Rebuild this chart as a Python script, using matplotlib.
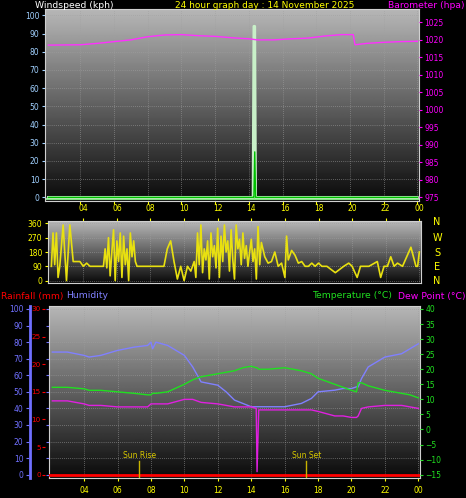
import matplotlib
matplotlib.use("Agg")
import matplotlib.pyplot as plt
import numpy as np

W, H = 466, 498

# barometer (hpa)
baro_t = [2.1, 4.0, 5.0, 6.0, 7.0, 8.0, 9.0, 10.0, 11.0, 12.0, 13.0, 14.0, 14.5, 15.5, 16.5, 17.5, 18.5, 19.5, 20.2, 20.3, 21.0, 22.0, 23.0, 24.0]
baro_v = [1018.5, 1018.6, 1019.0, 1019.5, 1020.0, 1020.9, 1021.4, 1021.5, 1021.2, 1021.0, 1020.6, 1020.3, 1020.0, 1020.0, 1020.3, 1020.5, 1021.1, 1021.5, 1021.5, 1018.6, 1019.0, 1019.3, 1019.5, 1019.6]
# wind speed / gust (kph)
wind_t = [2.1, 14.25, 14.3, 14.35, 14.4, 24.0]
gust_v = [0, 0, 94, 94, 0, 0]
avg_v = [0, 0, 0, 25, 0, 0]
# wind direction (deg)
dir_t = [2.1, 2.2, 2.3, 2.4, 2.5, 2.6, 2.8, 3.0, 3.2, 3.4, 3.6, 3.8, 4.0, 4.2, 4.4, 4.6, 4.8, 5.0, 5.2, 5.3, 5.4, 5.5, 5.6, 5.7,
         5.8, 5.9, 6.0, 6.1, 6.2, 6.3, 6.4, 6.5, 6.6, 6.7, 6.8, 6.9, 7.0, 7.1, 7.2, 7.4, 7.6, 7.8, 8.0, 8.4, 8.8, 9.0, 9.2, 9.4,
         9.6, 9.8, 10.0, 10.2, 10.4, 10.6, 10.7, 10.8, 10.9, 11.0, 11.1, 11.2, 11.3, 11.4, 11.5, 11.6, 11.7, 11.8, 11.9, 12.0,
         12.1, 12.2, 12.3, 12.4, 12.5, 12.6, 12.7, 12.8, 12.9, 13.0, 13.1, 13.2, 13.3, 13.4, 13.5, 13.6, 13.7, 13.8, 13.9, 14.0,
         14.1, 14.2, 14.3, 14.4, 14.5, 14.6, 14.8, 15.0, 15.2, 15.4, 15.6, 15.8, 16.0, 16.1, 16.2, 16.4, 16.6, 16.8, 17.0, 17.2,
         17.4, 17.6, 17.8, 18.0, 18.2, 18.5, 19.0, 19.5, 19.8, 20.0, 20.3, 20.5, 21.0, 21.5, 21.7, 21.9, 22.1, 22.3, 22.5, 22.7,
         23.0, 23.5, 23.8, 23.9, 24.0]
dir_v = [90, 300, 100, 300, 20, 90, 350, 0, 350, 120, 120, 120, 90, 110, 90, 90, 90, 90, 90, 200, 80, 270, 30, 180, 320,
         0, 250, 120, 300, 20, 280, 100, 200, 0, 300, 150, 250, 120, 90, 90, 90, 90, 90, 90, 90, 200, 250, 120, 10, 90, 0,
         90, 60, 120, 20, 300, 100, 350, 50, 200, 130, 250, 10, 300, 150, 220, 80, 330, 20, 280, 120, 350, 180, 250, 60,
         320, 130, 10, 350, 200, 260, 100, 300, 140, 220, 90, 180, 260, 120, 200, 10, 340, 100, 240, 150, 110, 120, 180,
         90, 110, 20, 280, 130, 190, 160, 110, 120, 90, 90, 110, 90, 110, 90, 90, 50, 90, 110, 90, 20, 90, 90, 120, 20,
         90, 90, 150, 90, 110, 90, 210, 90, 90, 180]
# temperature / dew point (C), humidity (%)
th_t = [2.1, 3.0, 4.0, 4.3, 5.0, 6.0, 7.0, 7.8, 8.0, 8.1, 8.3, 9.0, 10.0, 10.5, 11.0, 12.0, 12.5, 13.0, 13.5, 14.0, 14.3,
        14.35, 14.45, 15.0, 16.0, 17.0, 17.6, 18.0, 19.0, 19.5, 20.0, 20.3, 20.4, 20.6, 21.0, 22.0, 23.0, 23.5, 24.0]
hum_v = [74, 74, 72, 71, 72, 75, 77, 78, 80, 76, 80, 78, 72, 65, 56, 54, 50, 45, 43, 41, 41, 41, 41, 41, 41, 43, 46, 50,
         51, 52, 52, 53, 53, 58, 65, 71, 73, 76, 79]
temp_v = [14, 14, 13.5, 13, 13, 12.5, 12, 11.5, 11.5, 12, 12, 12.5, 15, 16.5, 17.5, 18.5, 19, 19.5, 20.5, 21, 20.5, 20.5,
          20, 20, 20.5, 19.5, 18.5, 17, 15, 14, 13, 12.5, 15.5, 15.5, 14.5, 13, 12, 11.5, 10.5]
dew_v = [9.5, 9.5, 8.5, 8, 8, 7.5, 7.5, 7.5, 8.5, 8.5, 8.5, 8.5, 10, 10, 9, 8.5, 8, 7.5, 7.5, 7.5, 7, -14, 6.5, 6.5, 6.5,
         6.5, 6.5, 6, 4.5, 4.5, 4, 4, 4.5, 7, 7.5, 8, 8, 7.5, 7]
hour_ticks = [4, 6, 8, 10, 12, 14, 16, 18, 20, 22, 24]
hour_labels = ["04", "06", "08", "10", "12", "14", "16", "18", "20", "22", "00"]
sun_rise, sun_set = 7.3, 17.3

XMIN, XMAX = 1.9, 24.1
fig = plt.figure(figsize=(W / 100, H / 100), dpi=100, facecolor="black")


def box(l, t, r, b):
    return fig.add_axes([l / W, 1 - b / H, (r - l) / W, (b - t) / H])


def style(ax, ylim, yticks, ycol):
    ax.set_facecolor("black")
    ax.set_xlim(XMIN, XMAX)
    ax.set_ylim(*ylim)
    grad = np.linspace(0.72, 0.04, 200).reshape(-1, 1)
    ax.imshow(grad, cmap="gray", vmin=0, vmax=1, aspect="auto",
              extent=[XMIN, XMAX, ylim[0], ylim[1]], zorder=0)
    ax.set_yticks(yticks)
    ax.tick_params(axis="y", colors=ycol, labelsize=5.5, length=2, pad=2)
    ax.set_xticks(hour_ticks)
    for v in hour_ticks:
        ax.axvline(v, color="#a0a0a0", lw=0.5, ls=(0, (1, 2)), zorder=1)
    for v in yticks:
        ax.axhline(v, color="#a0a0a0", lw=0.5, ls=(0, (1, 2)), zorder=1)
    for s in ax.spines.values():
        s.set_color("#d0d0d0")


# panel 1: wind + barometer
ax1 = box(45, 9, 419, 201)
style(ax1, (-2, 103.5), range(0, 101, 10), "#a0d0ff")
ax1.tick_params(axis="x", colors="yellow", labelsize=5.5, length=2)
ax1.set_xticklabels([])
ax1.axhline(-1, color="#80e080", lw=1.5, zorder=2)
ax1.plot(wind_t, gust_v, color="#c8f0c8", lw=2, zorder=3)
ax1.plot(wind_t, avg_v, color="#00c000", lw=1, zorder=4)
ax1b = ax1.twinx()
ax1b.set_ylim(975 - 2 * 0.52, 975 + 103.5 * 0.52)
ax1b.set_yticks(range(975, 1026, 5))
ax1b.tick_params(axis="y", colors="magenta", labelsize=5.5, length=2, pad=2)
ax1b.plot(baro_t, baro_v, color="#ff30ff", lw=1)
for s in ax1b.spines.values():
    s.set_visible(False)
fig.text(35 / W, 1 - 5 / H, "Windspeed (kph)", color="white", fontsize=6.7, va="center")
fig.text(265 / W, 1 - 5 / H, "24 hour graph day : 14 November 2025", color="yellow", fontsize=6.5, va="center", ha="center")
fig.text(465 / W, 1 - 5 / H, "Barometer (hpa)", color="magenta", fontsize=6.7, va="center", ha="right")

# panel 2: wind direction
ax2 = box(48, 221, 421, 283)
style(ax2, (-15, 375), [0, 90, 180, 270, 360], "yellow")
ax2.xaxis.tick_top()
ax2.tick_params(axis="x", colors="yellow", labelsize=5.5, length=2)
ax2.set_xticklabels(hour_labels)
ax2.plot(dir_t, dir_v, color="#e8e010", lw=1.2, zorder=3)
for lab, y in zip("NWSEN", [222, 238, 253, 267, 281]):
    fig.text(437 / W, 1 - y / H, lab, color="yellow", fontsize=7, ha="center", va="center")

# panel 3: temperature, humidity, rain
fig.text(1 / W, 1 - 296 / H, "Rainfall (mm)", color="red", fontsize=6.7, va="center")
fig.text(66 / W, 1 - 296 / H, "Humidity", color="#8080ff", fontsize=6.7, va="center")
fig.text(312 / W, 1 - 296 / H, "Temperature (\u00b0C)", color="#20e020", fontsize=6.7, va="center")
fig.text(465 / W, 1 - 296 / H, "Dew Point (\u00b0C)", color="magenta", fontsize=6.7, va="center", ha="right")
ax3 = box(49, 306, 420, 478)
style(ax3, (-2, 101.8), range(0, 101, 10), "#7070ff")
ax3.tick_params(axis="x", colors="yellow", labelsize=5.5, length=2)
ax3.set_xticklabels(hour_labels)
ax3.tick_params(axis="y", labelleft=False, left=False)
ax3.axhline(0, color="red", lw=2, zorder=3)
ax3.plot(th_t, hum_v, color="#8080ff", lw=1, zorder=4)
for x, lab in [(sun_rise, "Sun Rise"), (sun_set, "Sun Set")]:
    ax3.plot([x, x], [-2, 8], color="#c8b400", lw=1, zorder=5)
    ax3.text(x, 9, lab, color="#d8c800", fontsize=5.5, ha="center", va="bottom", zorder=5)
ax3b = ax3.twinx()
ax3b.set_ylim(-15 - 2 * 0.55, -15 + 101.8 * 0.55)
ax3b.set_yticks(range(-15, 41, 5))
ax3b.tick_params(axis="y", colors="#20e020", labelsize=5.5, length=2, pad=2)
ax3b.plot(th_t, temp_v, color="#20e020", lw=1)
ax3b.plot(th_t, dew_v, color="#e020e0", lw=1)
for s in ax3b.spines.values():
    s.set_visible(False)
# humidity axis (far left) and rainfall axis
axh = box(29, 306, 30, 478)
axh.set_ylim(-2, 101.8)
axh.set_yticks(range(0, 101, 10))
axh.set_xticks([])
axh.tick_params(axis="y", colors="#7070ff", labelsize=5.5, length=2, pad=2)
for s in axh.spines.values():
    s.set_visible(False)
axh.spines["right"].set_visible(True)
axh.spines["right"].set_color("#7070ff")
axh.spines["right"].set_linewidth(2)
axh.patch.set_alpha(0)
axr = box(45, 306, 46, 478)
axr.set_ylim(-2 * 0.3, 101.8 * 0.3)
axr.set_yticks(range(0, 31, 5))
axr.set_xticks([])
axr.tick_params(axis="y", colors="red", labelsize=5.2, length=2, pad=1)
for s in axr.spines.values():
    s.set_visible(False)
axr.patch.set_alpha(0)

fig.savefig("out.png", dpi=100, facecolor="black")
